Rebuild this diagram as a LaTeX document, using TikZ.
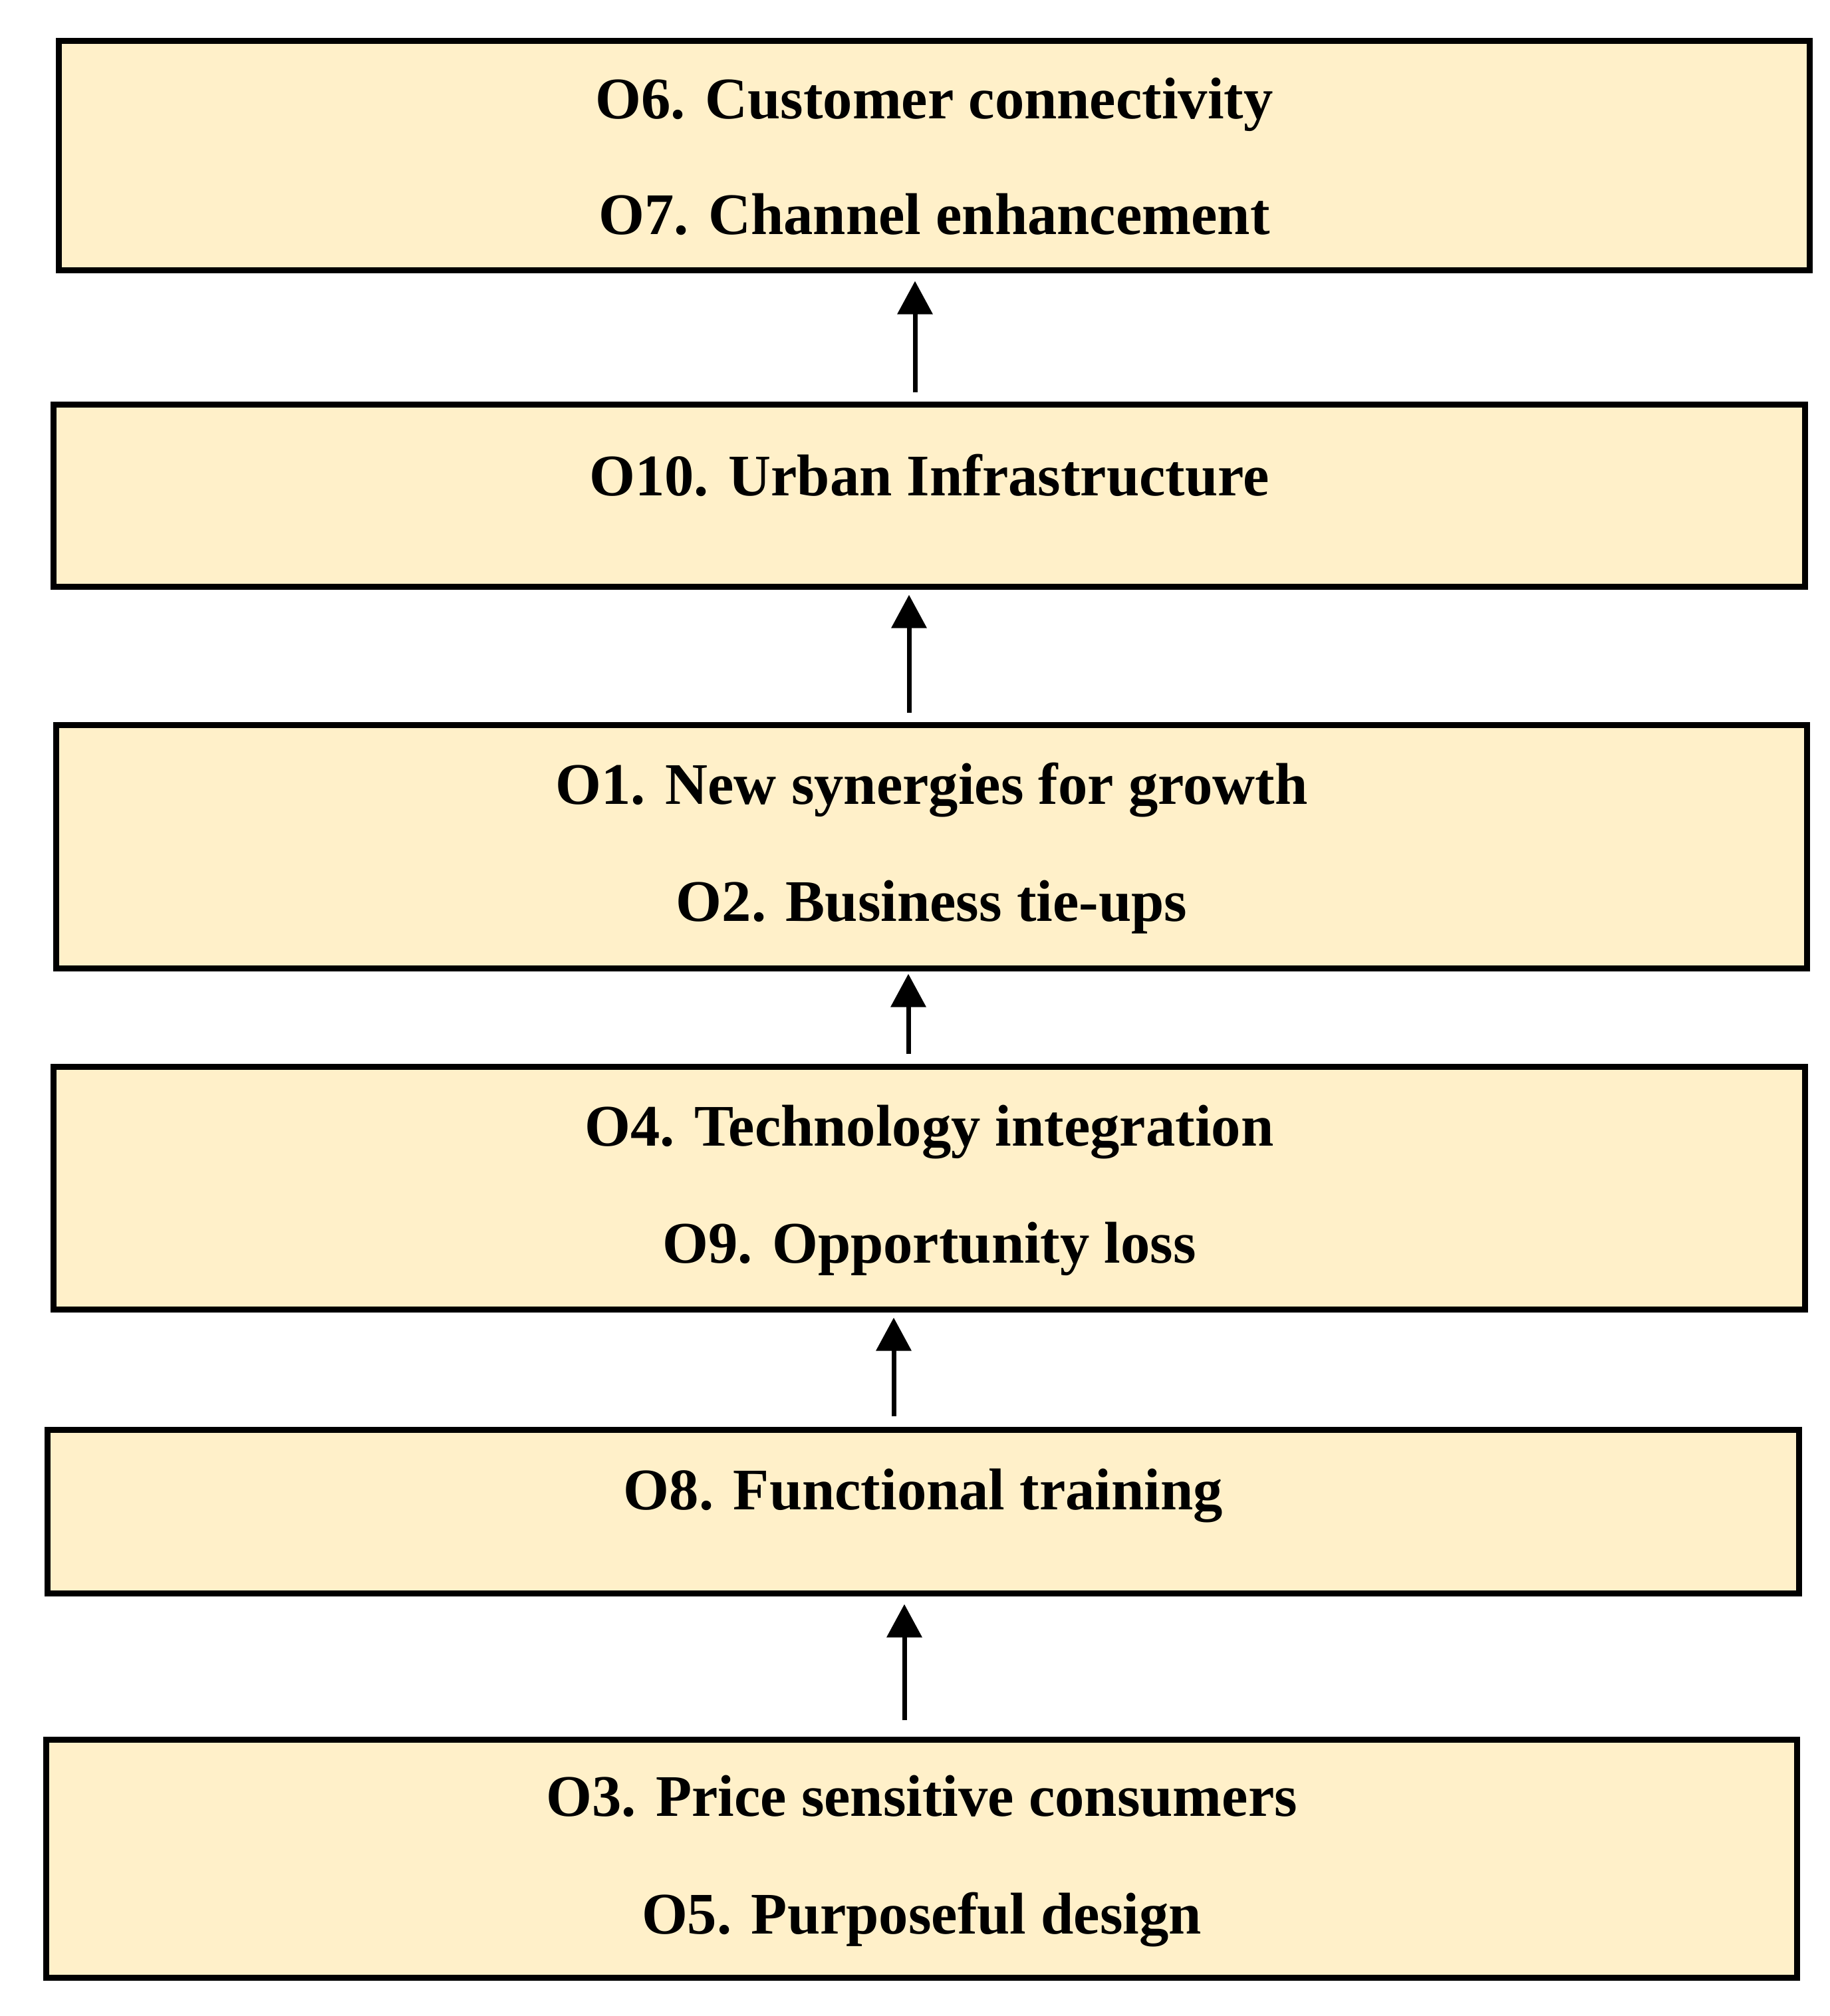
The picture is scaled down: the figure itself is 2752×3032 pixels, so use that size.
\documentclass[tikz,border=0pt]{standalone}
\usepackage{fontspec}
\setmainfont{Liberation Serif}
\usetikzlibrary{arrows.meta}
\definecolor{boxfill}{HTML}{FFF0C9}
\tikzset{
  obox/.style={draw=black, fill=boxfill, line width=0.09cm, rectangle, inner sep=0pt, minimum width=26.32cm},
  otext/.style={anchor=base, inner sep=0pt, font=\fontsize{25.2}{30}\selectfont\bfseries},
  arr/.style={line width=0.07cm, -{Triangle[width=0.52cm,length=0.50cm]}}
}
\begin{document}
\begin{tikzpicture}[x=0.01cm, y=-0.01cm]
\useasboundingbox[fill=white] (0,0) rectangle (2752,3032);
% boxes
\node[obox, minimum height=3.44cm] (b1) at (1405,234) {};
\node[obox, minimum height=2.73cm] (b2) at (1397.5,745.5) {};
\node[obox, minimum height=3.65cm] (b3) at (1401,1273.5) {};
\node[obox, minimum height=3.64cm] (b4) at (1397.5,1787) {};
\node[obox, minimum height=2.45cm] (b5) at (1388.5,2273.5) {};
\node[obox, minimum height=3.57cm] (b6) at (1386,2795.5) {};
% texts
\node[otext] (t6) at (1405,178) {O6. Customer connectivity};
\node[otext] (t7) at (1405,352) {O7. Channel enhancement};
\node[otext] (t10) at (1397.5,745) {O10. Urban Infrastructure};
\node[otext] (t1) at (1401,1209) {O1. New synergies for growth};
\node[otext] (t2) at (1401,1385) {O2. Business tie-ups};
\node[otext] (t4) at (1397.5,1723) {O4. Technology integration};
\node[otext] (t9) at (1397.5,1899) {O9. Opportunity loss};
\node[otext] (t8) at (1388.5,2270) {O8. Functional training};
\node[otext] (t3) at (1386,2731) {O3. Price sensitive consumers};
\node[otext] (t5) at (1386,2908) {O5. Purposeful design};
% arrow x positions
\coordinate (x1) at (1376,0);
\coordinate (x2) at (1367,0);
\coordinate (x3) at (1366,0);
\coordinate (x4) at (1344,0);
\coordinate (x5) at (1360,0);
% arrows
\draw[arr, shorten <=0.14cm, shorten >=0.12cm] (b2.north -| x1) -- (b1.south -| x1);
\draw[arr, shorten <=0.14cm, shorten >=0.08cm] (b3.north -| x2) -- (b2.south -| x2);
\draw[arr, shorten <=0.15cm, shorten >=0.04cm] (b4.north -| x3) -- (b3.south -| x3);
\draw[arr, shorten <=0.16cm, shorten >=0.08cm] (b5.north -| x4) -- (b4.south -| x4);
\draw[arr, shorten <=0.25cm, shorten >=0.12cm] (b6.north -| x5) -- (b5.south -| x5);
\end{tikzpicture}
\end{document}
